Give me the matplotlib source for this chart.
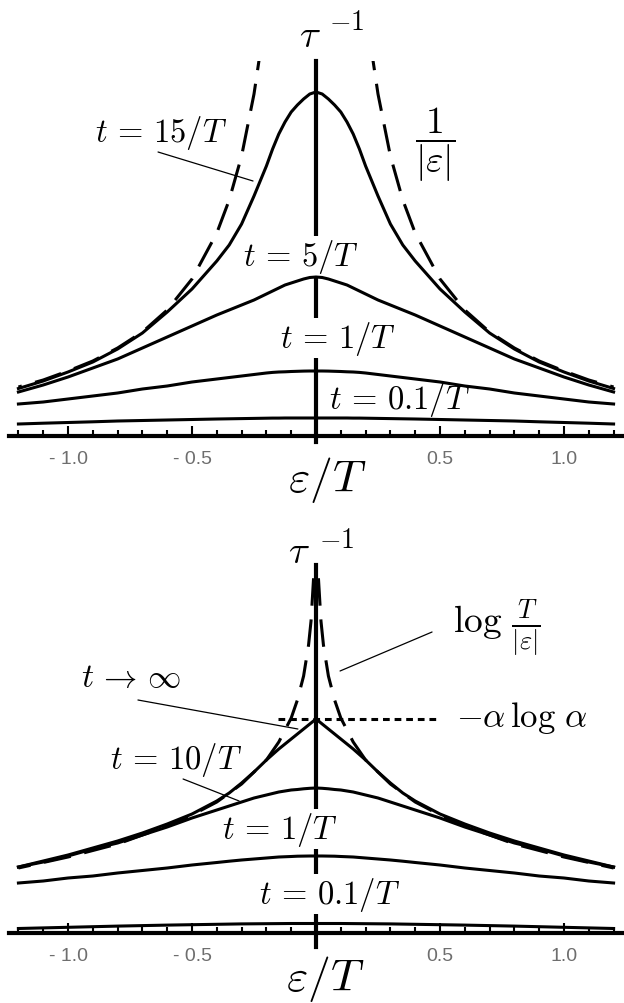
import numpy as np
import matplotlib
matplotlib.use('Agg')
import matplotlib.pyplot as plt

plt.rcParams['mathtext.fontset'] = 'cm'

# ---- top panel: relaxation rate vs eps/T (arbitrary units, axis at 0) ----
eps_top = [0, 0.025, 0.05, 0.075, 0.1, 0.125, 0.15, 0.175, 0.2, 0.25, 0.3,
           0.35, 0.4, 0.5, 0.6, 0.7, 0.8, 0.9, 1.0, 1.1, 1.2]
top_t15 = [344, 342, 337, 331, 324, 314, 302, 287, 270, 240, 212,
           191, 175, 147, 124, 103, 87, 74, 64, 55, 47.5]
top_t5 = [159, 158.5, 157, 155, 153, 151, 148, 145, 142, 136, 131,
          126, 121, 110, 99, 88, 77, 68, 59, 51, 44]
top_t1 = [65, 65, 64.9, 64.7, 64.5, 64.2, 64, 63.6, 63, 61.5, 60,
          58.5, 57, 54, 50, 47, 43, 40, 37, 34, 32]
top_t01 = [18, 18, 18, 18, 18, 18, 17.9, 17.9, 17.8, 17.6, 17.4,
           17.2, 17, 16.5, 16, 15.5, 15, 14.2, 13.5, 12.8, 12]
eps_inv = [0.2, 0.22, 0.25, 0.3, 0.35, 0.4, 0.5, 0.6, 0.7, 0.8, 0.9, 1.0, 1.1, 1.2]
top_inv = [434, 392, 342, 280, 236, 203, 157, 126, 104, 88, 75, 65, 56, 49]

# ---- bottom panel ----
eps_bot = [0, 0.025, 0.05, 0.075, 0.1, 0.15, 0.2, 0.25, 0.3, 0.35, 0.4,
           0.5, 0.6, 0.7, 0.8, 0.9, 1.0, 1.1, 1.2]
bot_tinf = [214, 209, 204, 199, 194, 184, 173, 161, 150, 140, 132,
            119, 109, 100, 92, 85, 78, 72, 66]
bot_t10 = [145, 144.7, 144.2, 143.5, 143, 141, 138, 135, 131, 127, 123,
           115, 106, 98, 90, 84, 77, 71, 66]
bot_t1 = [77, 77, 76.9, 76.8, 76.5, 76, 75, 74, 73, 71.8, 70.5,
          68, 65, 62.5, 60, 57, 55, 52, 50]
bot_t01 = [9.5, 9.5, 9.5, 9.5, 9.5, 9.4, 9.3, 9.2, 9.1, 8.9, 8.7,
           8.3, 7.9, 7.4, 6.9, 6.3, 5.7, 5.1, 4.5]
eps_log = [0.005, 0.01, 0.02, 0.03, 0.05, 0.075, 0.1, 0.15, 0.2, 0.3, 0.4,
           0.5, 0.6, 0.8, 1.0, 1.2]
bot_log = [396, 354, 312, 288, 257, 233, 215, 191, 173, 149, 131,
           118, 107, 89, 76, 65]
alpha_level = 214
alpha_span = [-0.153, 0.5]

major_ticks = [-1.0, -0.5, 0.5, 1.0]
major_labels = ['- 1.0', '- 0.5', '0.5', '1.0']
minor_ticks = [-1.2, -1.1, -0.9, -0.8, -0.7, -0.6, -0.4, -0.3, -0.2, -0.1,
               0.1, 0.2, 0.3, 0.4, 0.6, 0.7, 0.8, 0.9, 1.1, 1.2]

LW = 2.2
DASH = (9, 4.5)
LABEL = dict(fontsize=23.5, ha='center', va='center',
             bbox=dict(facecolor='white', edgecolor='none', pad=0.5), zorder=3)
AXLAB = dict(fontsize=33, ha='center', va='center', clip_on=False)


def mirror(x, y):
    x = np.asarray(x, float)
    y = np.asarray(y, float)
    return np.concatenate([-x[::-1], x[1:]]), np.concatenate([y[::-1], y[1:]])


def setup_axes(ax, ylim):
    ax.set_xlim(-1.24, 1.24)
    ax.set_ylim(*ylim)
    for s in ['top', 'right']:
        ax.spines[s].set_visible(False)
    for s in ['left', 'bottom']:
        ax.spines[s].set_position(('data', 0))
        ax.spines[s].set_linewidth(3)
    ax.set_yticks([])
    ax.set_xticks(major_ticks)
    ax.set_xticklabels(major_labels)
    ax.set_xticks(minor_ticks, minor=True)
    ax.tick_params(axis='x', which='both', direction='in', width=1.5,
                   labelcolor='#6e6e6e', labelsize=14, pad=10)
    ax.tick_params(axis='x', which='major', length=7)
    ax.tick_params(axis='x', which='minor', length=4)
    for lbl in ax.get_xticklabels():
        lbl.set_fontfamily('Liberation Sans')


def tau_label(ax, base, sup):
    # tau with a large "-1" exponent, drawn as two pieces
    ax.text(*base, r'$\tau$', fontsize=28, ha='center', va='center', clip_on=False)
    ax.text(*sup, r'$-1$', fontsize=20, ha='center', va='center', clip_on=False)


def pointer(ax, p0, p1):
    ax.annotate('', xy=p1, xytext=p0,
                arrowprops=dict(arrowstyle='-', lw=0.9, color='black',
                                shrinkA=0, shrinkB=0))


fig = plt.figure(figsize=(6.24, 10.04), dpi=100)
ax1 = fig.add_axes([8.5 / 624, (1004 - 443) / 1004, 615 / 624, 381 / 1004])
ax2 = fig.add_axes([8.5 / 624, (1004 - 948) / 1004, 615 / 624, 382 / 1004])
setup_axes(ax1, (-6, 375))
setup_axes(ax2, (-14, 368))

# top curves
for ys in [top_t15, top_t5, top_t1, top_t01]:
    xx, yy = mirror(eps_top, ys)
    ax1.plot(xx, yy, color='black', lw=LW, zorder=4)
for sgn in [1, -1]:
    ax1.plot(sgn * np.asarray(eps_inv), top_inv, color='black', lw=LW,
             dashes=DASH, zorder=4)

tau_label(ax1, (-0.024, 401), (0.125, 415))
ax1.text(0.044, -43, r'$\varepsilon/T$', **AXLAB)
ax1.text(-0.625, 304, r'$t\,=\,15/T$', **LABEL)
pointer(ax1, (-0.637, 284), (-0.254, 255))
ax1.text(0.48, 292, r'$\dfrac{1}{|\varepsilon|}$', fontsize=27, ha='center', va='center')
ax1.text(-0.06, 180, r'$t\,=\,5/T$', **LABEL)
ax1.text(0.089, 98, r'$t\,=\,1/T$', **LABEL)
ax1.text(0.339, 37, r'$t\,=\,0.1/T$', **LABEL)

# bottom curves
for ys in [bot_tinf, bot_t10, bot_t1, bot_t01]:
    xx, yy = mirror(eps_bot, ys)
    ax2.plot(xx, yy, color='black', lw=LW, zorder=4)
for sgn in [1, -1]:
    ax2.plot(sgn * np.asarray(eps_log), bot_log, color='black', lw=LW,
             dashes=DASH, zorder=4)
ax2.plot(alpha_span, [alpha_level, alpha_level], color='black', lw=LW,
         dashes=(2.2, 1.6), zorder=4)

tau_label(ax2, (-0.069, 382), (0.085, 394))
ax2.text(0.036, -45, r'$\varepsilon/T$', **AXLAB)
ax2.text(0.73, 306, r'$\log\,\frac{T}{|\varepsilon|}$', fontsize=27, ha='center', va='center')
pointer(ax2, (0.468, 301), (0.097, 262))
ax2.text(0.83, 216, r'$-\alpha\,\log\,\alpha$', fontsize=25, ha='center', va='center')
ax2.text(-0.746, 256, r'$t\,\rightarrow\,\infty$', fontsize=24, ha='center', va='center')
pointer(ax2, (-0.718, 233), (-0.073, 204))
ax2.text(-0.565, 174, r'$t\,=\,10/T$', **LABEL)
pointer(ax2, (-0.536, 154), (-0.31, 132))
ax2.text(-0.145, 104, r'$t\,=\,1/T$', **LABEL)
ax2.text(0.056, 39, r'$t\,=\,0.1/T$', **LABEL)

fig.savefig('out.png', dpi=100)
